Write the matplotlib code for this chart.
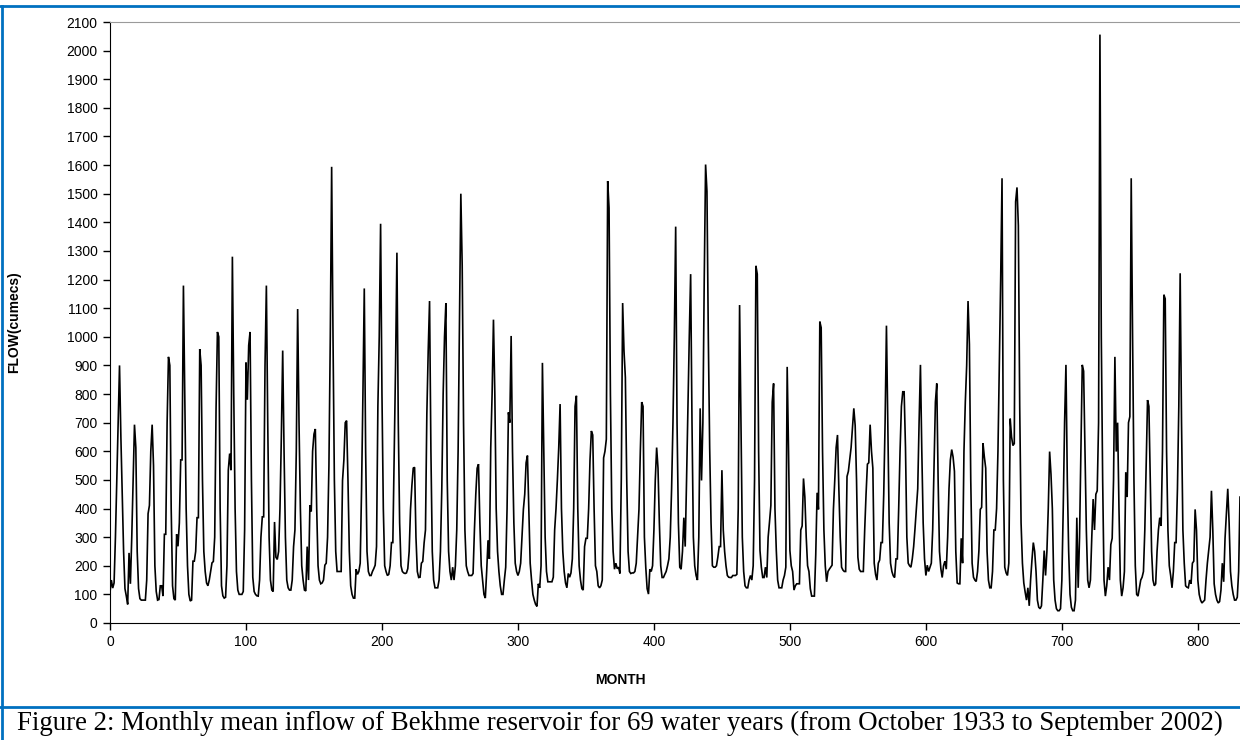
import matplotlib
matplotlib.use("Agg")
import matplotlib.pyplot as plt
from matplotlib.lines import Line2D
import numpy as np

# Monthly mean inflow (cumecs); one row per water year (Oct..Sep)
flow_years_01_10 = [
    108,
    150, 122, 140, 300, 500, 700, 900, 650, 450, 250, 120, 94,
    65, 245, 137, 300, 500, 693, 613, 250, 120, 85, 80, 80,
    80, 80, 150, 382, 411, 600, 693, 550, 200, 110, 80, 82,
    130, 130, 94, 310, 310, 700, 930, 900, 400, 130, 85, 80,
    310, 268, 350, 570, 570, 1179, 800, 400, 200, 100, 77, 80,
    216, 216, 250, 368, 368, 957, 900, 500, 250, 180, 140, 130,
    150, 180, 210, 215, 300, 750, 1017, 1000, 400, 130, 95, 87,
    90, 200, 534, 592, 534, 1280, 800, 400, 180, 115, 100, 100,
    100, 110, 325, 910, 780, 970, 1017, 500, 160, 110, 100, 95,
    94, 150, 300, 371, 371, 900, 1179, 700, 300, 150, 115, 110,
]
flow_years_11_20 = [
    353, 230, 222, 250, 400, 650, 952, 600, 300, 150, 123, 115,
    115, 150, 267, 325, 600, 1097, 700, 400, 200, 150, 115, 112,
    267, 150, 411, 390, 600, 660, 678, 400, 200, 150, 137, 140,
    150, 202, 209, 300, 550, 1000, 1594, 1000, 500, 250, 180, 180,
    180, 180, 498, 570, 700, 707, 500, 250, 130, 100, 87, 87,
    188, 170, 180, 209, 469, 800, 1169, 600, 250, 180, 166, 166,
    180, 190, 202, 267, 757, 1000, 1395, 800, 400, 200, 180, 166,
    170, 200, 281, 281, 600, 900, 1294, 700, 350, 200, 180, 175,
    173, 175, 190, 250, 397, 480, 541, 544, 300, 180, 159, 160,
    209, 215, 280, 325, 729, 950, 1125, 600, 250, 150, 123, 123,
]
flow_years_21_30 = [
    123, 150, 250, 469, 800, 1000, 1118, 500, 250, 180, 150, 195,
    150, 200, 325, 600, 1046, 1500, 1250, 700, 325, 200, 180, 166,
    166, 166, 173, 325, 450, 541, 555, 350, 200, 150, 100, 87,
    180, 289, 224, 613, 800, 1060, 800, 400, 250, 180, 130, 100,
    100, 150, 195, 400, 736, 700, 1003, 600, 350, 209, 180, 166,
    180, 209, 300, 397, 450, 560, 585, 400, 209, 150, 100, 80,
    65, 58, 137, 123, 200, 909, 600, 300, 180, 144, 144, 144,
    144, 160, 325, 400, 500, 613, 765, 400, 250, 180, 140, 123,
    173, 160, 175, 224, 400, 757, 794, 400, 200, 150, 120, 115,
    267, 296, 296, 400, 570, 671, 657, 400, 200, 180, 130, 123,
]
flow_years_31_40 = [
    130, 150, 577, 600, 642, 1544, 1450, 800, 400, 250, 188, 209,
    190, 195, 173, 500, 1118, 950, 858, 500, 250, 180, 173, 175,
    175, 180, 209, 300, 397, 600, 772, 757, 300, 195, 120, 101,
    188, 180, 200, 325, 500, 613, 541, 350, 200, 159, 159, 170,
    180, 200, 224, 300, 469, 700, 1000, 1385, 700, 350, 195, 188,
    250, 368, 267, 500, 757, 1000, 1219, 700, 300, 200, 166, 150,
    300, 750, 498, 700, 1200, 1602, 1508, 1000, 613, 350, 200, 195,
    195, 200, 230, 267, 267, 534, 325, 250, 200, 166, 160, 159,
    159, 166, 166, 166, 170, 400, 1111, 700, 300, 180, 130, 123,
    123, 150, 166, 150, 200, 500, 1248, 1219, 600, 253, 195, 159,
]
flow_years_41_50 = [
    159, 195, 159, 300, 353, 411, 772, 837, 400, 253, 150, 123,
    123, 123, 150, 166, 195, 895, 600, 253, 200, 180, 115, 130,
    137, 137, 137, 325, 339, 505, 440, 300, 200, 180, 120, 94,
    94, 94, 238, 455, 397, 1053, 1032, 600, 325, 200, 144, 180,
    188, 195, 202, 397, 500, 613, 657, 469, 300, 195, 185, 180,
    180, 512, 530, 570, 613, 680, 750, 690, 500, 230, 188, 180,
    180, 180, 325, 450, 555, 560, 693, 600, 541, 209, 170, 150,
    209, 220, 281, 281, 450, 700, 1039, 700, 350, 209, 180, 165,
    159, 224, 224, 400, 600, 757, 808, 808, 613, 300, 209, 200,
    195, 224, 267, 330, 400, 469, 700, 902, 600, 350, 224, 166,
]
flow_years_51_60 = [
    202, 180, 195, 209, 325, 550, 772, 837, 500, 250, 190, 159,
    200, 216, 188, 300, 469, 570, 606, 580, 530, 250, 140, 137,
    137, 296, 209, 600, 772, 900, 1125, 974, 500, 209, 160, 150,
    145, 180, 253, 397, 404, 628, 580, 541, 250, 150, 123, 123,
    180, 325, 325, 400, 600, 900, 1200, 1554, 500, 195, 175, 166,
    209, 714, 650, 620, 627, 1472, 1522, 1389, 757, 350, 209, 140,
    108, 80, 123, 60, 150, 220, 281, 250, 180, 80, 55, 50,
    60, 150, 253, 166, 250, 400, 599, 520, 400, 150, 80, 50,
    43, 43, 50, 150, 400, 700, 902, 500, 250, 100, 55, 43,
    43, 80, 368, 123, 300, 600, 902, 880, 600, 325, 150, 123,
]
flow_years_61_69 = [
    150, 300, 433, 325, 450, 462, 700, 2056, 1000, 500, 150, 94,
    130, 195, 150, 274, 296, 500, 930, 599, 700, 400, 150, 94,
    123, 180, 527, 440, 700, 721, 1554, 1000, 500, 200, 100, 94,
    123, 150, 160, 180, 325, 550, 779, 757, 500, 250, 150, 130,
    137, 250, 325, 368, 339, 600, 1147, 1133, 600, 325, 200, 166,
    123, 180, 281, 281, 469, 757, 1222, 700, 325, 209, 130, 125,
    123, 150, 137, 209, 216, 397, 325, 150, 100, 80, 70, 75,
    80, 150, 209, 253, 300, 462, 325, 137, 100, 80, 70, 75,
    115, 209, 144, 296, 380, 469, 350, 180, 130, 100, 80, 80,
    90, 180, 440,
]

y_ticks = list(range(0, 2200, 100))
x_ticks = list(range(0, 900, 100))
caption = ("Figure 2: Monthly mean inflow of Bekhme reservoir for 69 water years "
           "(from October 1933 to September 2002)")

flow = np.array(flow_years_01_10 + flow_years_11_20 + flow_years_21_30 +
                flow_years_31_40 + flow_years_41_50 + flow_years_51_60 +
                flow_years_61_69, dtype=float)
month = np.arange(len(flow))

W, H = 1240, 740
fig = plt.figure(figsize=(W / 100, H / 100), dpi=100)
fig.patch.set_facecolor("white")

left, right, top, bottom = 110, 1240, 22, 623
ax = fig.add_axes([left / W, 1 - bottom / H, (right - left) / W, (bottom - top) / H])
ax.plot(month, flow, color="black", lw=1.2, solid_joinstyle="miter")
ax.set_xlim(0, 831)
ax.set_ylim(0, 2100)
ax.set_yticks(y_ticks)
ax.set_xticks(x_ticks)
ax.tick_params(direction="out", length=5, width=1, labelsize=10, colors="black", pad=4)
for lab in ax.get_xticklabels() + ax.get_yticklabels():
    lab.set_fontfamily("Liberation Sans")
ax.spines["right"].set_visible(False)
ax.spines["top"].set_color("#9a9a9a")
ax.spines["left"].set_color("black")
ax.spines["bottom"].set_color("black")
ax.set_xlabel("MONTH", fontsize=10, fontweight="bold", family="Liberation Sans")
ax.set_ylabel("FLOW(cumecs)", fontsize=10, fontweight="bold", family="Liberation Sans")
ax.xaxis.set_label_coords((620 - left) / (right - left), -(680 - bottom) / (bottom - top))
ax.yaxis.set_label_coords(-(left - 14) / (right - left), (bottom - 322) / (bottom - top))
ax.xaxis.label.set_va("center")
ax.yaxis.label.set_va("center")

blue = "#0070C0"
lw_b = 2.0
fig.add_artist(Line2D([0, 1], [1 - 6 / H, 1 - 6 / H], color=blue, lw=lw_b, transform=fig.transFigure))
fig.add_artist(Line2D([1.5 / W, 1.5 / W], [0, 1 - 6 / H], color=blue, lw=lw_b, transform=fig.transFigure))
fig.add_artist(Line2D([0, 1], [1 - 707 / H, 1 - 707 / H], color=blue, lw=lw_b, transform=fig.transFigure))

cap = fig.text(17 / W, 1 - 723 / H, caption, fontsize=14, family="Liberation Serif",
               ha="left", va="center", color="black")
fig.canvas.draw()
bb = cap.get_window_extent()
cap.set_fontsize(14 * (1215 / bb.width))

fig.savefig("out.png", dpi=100)
